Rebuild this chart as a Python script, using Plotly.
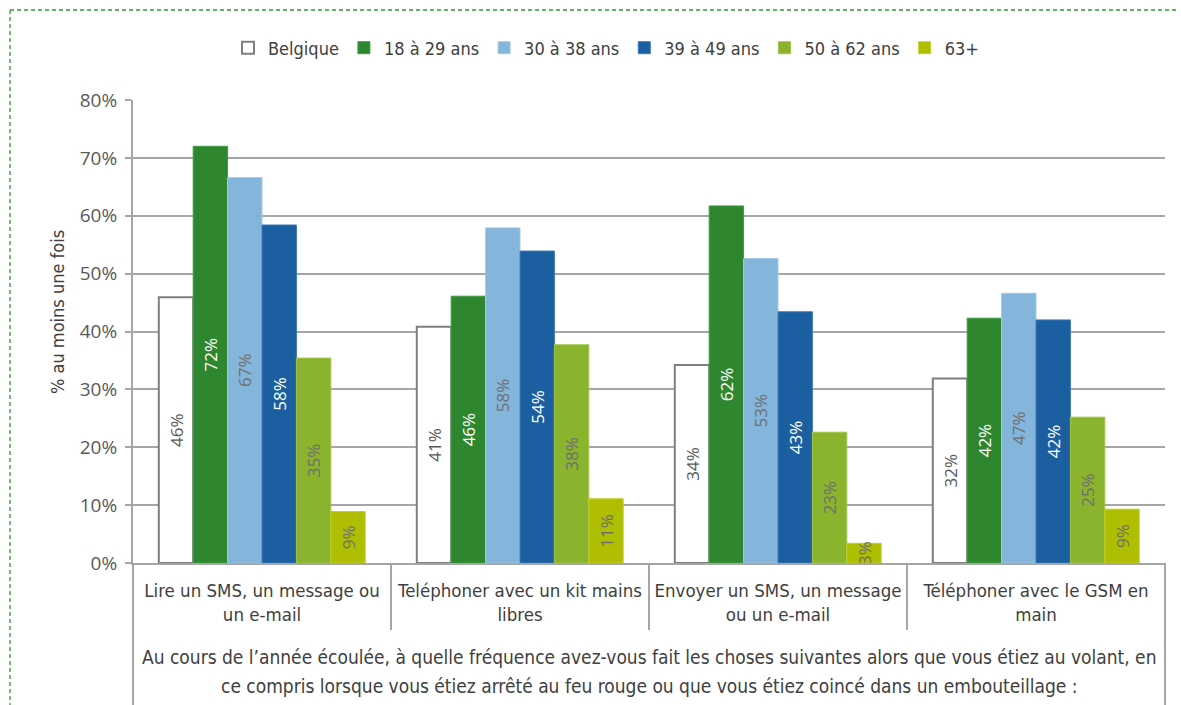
import plotly.graph_objects as go

# Survey data: share of drivers who did each thing at least once (%)
categories = [
    "Lire un SMS, un message ou<br>un e-mail",
    "Teléphoner avec un kit mains<br>libres",
    "Envoyer un SMS, un message<br>ou un e-mail",
    "Téléphoner avec le GSM en<br>main",
]
question_lines = [
    "Au cours de l’année écoulée, à quelle fréquence avez-vous fait les choses suivantes alors que vous étiez au volant, en",
    "ce compris lorsque vous étiez arrêté au feu rouge ou que vous étiez coincé dans un embouteillage :",
]

belgique = [45.9, 40.8, 34.2, 31.9]
age_18_29 = [72.0, 46.1, 61.7, 42.3]
age_30_38 = [66.6, 57.9, 52.6, 46.6]
age_39_49 = [58.4, 53.9, 43.4, 42.0]
age_50_62 = [35.4, 37.7, 22.6, 25.2]
age_63 = [8.9, 11.1, 3.4, 9.3]

series = [
    ("Belgique", belgique, "#ffffff", "#7f7f7f", "#595959"),
    ("18 à 29 ans", age_18_29, "#2e872e", "#3f9a3f", "#ffffff"),
    ("30 à 38 ans", age_30_38, "#84b5db", "#a3c9e6", "#6f6f6f"),
    ("39 à 49 ans", age_39_49, "#1c5fa0", "#3a78b5", "#ffffff"),
    ("50 à 62 ans", age_50_62, "#8ab32e", "#9fc447", "#6f6f6f"),
    ("63+", age_63, "#afbe00", "#c2cf2a", "#6f6f6f"),
]

y_ticks = [0, 10, 20, 30, 40, 50, 60, 70, 80]

NARROW = "DejaVu Sans Condensed, Liberation Sans Narrow, Arial, sans-serif"
WIDE = "Open Sans, DejaVu Sans, sans-serif"
GRID = "#a6a6a6"
TXT = "#404040"


def pct(v):
    return f"{int(v + 0.5)}%"


fig = go.Figure()
for name, vals, fill, edge, txtcol in series:
    fig.add_trace(go.Bar(
        name=name,
        x=categories,
        y=vals,
        marker=dict(color=fill, line=dict(color=edge, width=2 if name == "Belgique" else 1)),
        text=[pct(v) for v in vals],
        textposition="inside",
        insidetextanchor="middle",
        textangle=-90,
        constraintext="none",
        textfont=dict(family=WIDE, size=17, color=txtcol),
    ))

# plot-area geometry in pixels
W, H = 1181, 705
L, R, T, B = 133, 1165, 100, 563
pw, ph = R - L, B - T


def px_x(x):
    return (x - L) / pw


def px_y(y):
    return (B - y) / ph


shapes = []
# category separators below the axis
for i in range(1, len(categories)):
    shapes.append(dict(type="line", xref="x", yref="paper", x0=i - 0.5, x1=i - 0.5,
                       y0=0, y1=px_y(630), line=dict(color=GRID, width=2)))
# outer edges of the category band
for xp in (0, 1):
    shapes.append(dict(type="line", xref="paper", yref="paper", x0=xp, x1=xp,
                       y0=0, y1=px_y(705), line=dict(color=GRID, width=2)))
# dashed frame
frame = dict(color="#2f9a2f", width=1.3, dash="4px,3px")
shapes.append(dict(type="line", xref="paper", yref="paper", x0=px_x(10), x1=px_x(1179),
                   y0=px_y(10), y1=px_y(10), line=frame))
shapes.append(dict(type="line", xref="paper", yref="paper", x0=px_x(10), x1=px_x(10),
                   y0=px_y(10), y1=px_y(705), line=frame))

annotations = []
for line, ypx in zip(question_lines, (657, 686)):
    annotations.append(dict(text=line, xref="paper", yref="paper", x=0.5, y=px_y(ypx),
                            showarrow=False, xanchor="center", yanchor="middle",
                            font=dict(family=NARROW, size=19, color=TXT)))
# y-axis title
annotations.append(dict(text="% au moins une fois", xref="paper", yref="paper",
                        x=px_x(57), y=px_y(312), textangle=-90, showarrow=False,
                        xanchor="center", yanchor="middle",
                        font=dict(family=NARROW, size=18, color=TXT)))

fig.update_layout(
    width=W, height=H,
    margin=dict(l=L, r=W - R, t=T, b=H - B, pad=0),
    paper_bgcolor="white", plot_bgcolor="white",
    barmode="group", bargap=0.2, bargroupgap=0,
    showlegend=True,
    legend=dict(orientation="h", x=px_x(228), xanchor="left", y=px_y(48), yanchor="middle",
                font=dict(family=NARROW, size=18, color=TXT),
                itemwidth=30, traceorder="normal"),
    shapes=shapes,
    annotations=annotations,
    xaxis=dict(showgrid=False, showline=True, linecolor=GRID, linewidth=2,
               ticks="", tickfont=dict(family=NARROW, size=18.5, color=TXT),
               ticklabelstandoff=10),
    yaxis=dict(range=[0, 80], tickvals=y_ticks, ticktext=[f"{v}%" for v in y_ticks],
               showgrid=True, gridcolor=GRID, gridwidth=2,
               showline=True, linecolor=GRID, linewidth=2,
               ticks="outside", ticklen=6, tickcolor=GRID, tickwidth=2,
               tickfont=dict(family=WIDE, size=19, color="#595959"),
               ticklabelstandoff=4,
               zeroline=False),
)

fig.write_html("out.html")
